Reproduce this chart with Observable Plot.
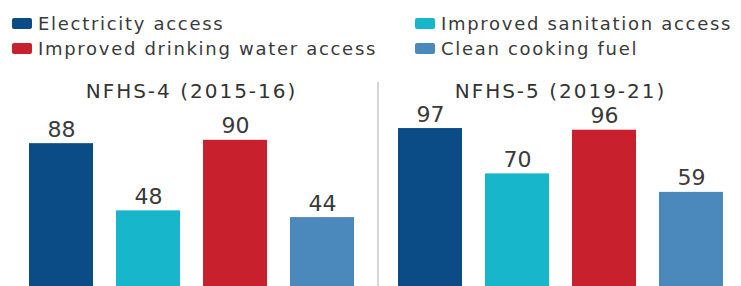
<!DOCTYPE html>
<html><head><meta charset="utf-8">
<script src="https://cdn.jsdelivr.net/npm/d3@7"></script>
<script src="https://cdn.jsdelivr.net/npm/@observablehq/plot@0.6"></script>
<style>
html,body{margin:0;padding:0;background:#fff;overflow:hidden;width:741px;height:286px;}
#wrap{position:relative;width:741px;height:286px;overflow:hidden;}
#chart{position:absolute;left:0;top:0;}
#legend{position:absolute;left:12px;top:11px;display:grid;grid-template-columns:403px auto;grid-auto-rows:25px;
  font-family:"DejaVu Sans";font-size:18px;letter-spacing:1.7px;color:#3a3a3a;}
.item{display:flex;align-items:center;white-space:nowrap;}
.sw{width:20px;height:11px;border-radius:2px;margin-right:6px;flex:none;}
#sep{position:absolute;left:377px;top:82px;width:2px;height:210px;background:#d6d6d6;}
#chart g[aria-label="fx-axis tick label"] text{letter-spacing:2px;}
</style></head>
<body><div id="wrap"><div id="chart"></div><div id="legend"></div><div id="sep"></div></div>
<script>
const surveys = ["NFHS-4 (2015-16)", "NFHS-5 (2019-21)"];
const indicators = ["Electricity access", "Improved sanitation access", "Improved drinking water access", "Clean cooking fuel"];
const colors = ["#0b4c86", "#17b6ca", "#c9202e", "#4b88bc"];
const nfhs4 = [88, 48, 90, 44];
const nfhs5 = [97, 70, 96, 59];

const data = surveys.flatMap((s, i) => (i ? nfhs5 : nfhs4).map((v, j) => ({survey: s, indicator: indicators[j], value: v})));

const legend = document.getElementById("legend");
indicators.forEach((name, i) => {
  const it = document.createElement("div");
  it.className = "item";
  const sw = document.createElement("span");
  sw.className = "sw";
  sw.style.background = colors[i];
  it.appendChild(sw);
  it.appendChild(document.createTextNode(name));
  legend.appendChild(it);
});

const chart = Plot.plot({
  width: 741, height: 291,
  marginTop: 123, marginBottom: 0, marginLeft: 19, marginRight: 9,
  style: {fontFamily: "DejaVu Sans", background: "#fff", overflow: "visible"},
  fx: {domain: surveys, paddingInner: 0.068, paddingOuter: 0},
  x: {domain: indicators, paddingInner: 0.2686, paddingOuter: 0.1, axis: null},
  y: {domain: [0, 100], axis: null},
  color: {domain: indicators, range: colors},
  marks: [
    Plot.barY(data, {fx: "survey", x: "indicator", y: "value", fill: "indicator"}),
    Plot.text(data, {fx: "survey", x: "indicator", y: "value", text: "value", lineAnchor: "bottom", dy: -7, fontSize: 22, fill: "#3a3a3a"}),
    Plot.axisFx({anchor: "top", tickSize: 0, tickPadding: 26, fontSize: 20, fill: "#333", label: null})
  ]
});
document.getElementById("chart").appendChild(chart);
</script></body></html>
